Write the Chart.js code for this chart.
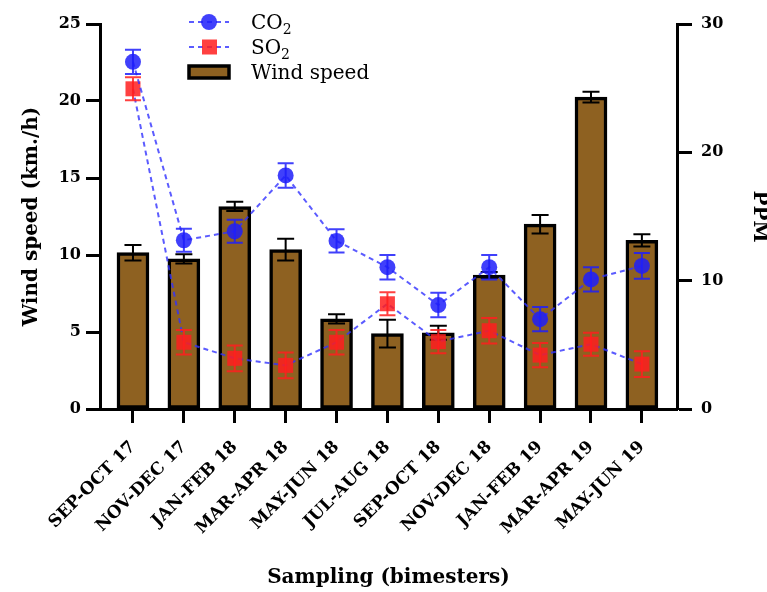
<!DOCTYPE html>
<html>
<head>
<meta charset="utf-8">
<script src="https://cdn.jsdelivr.net/npm/chart.js@4.4.1/dist/chart.umd.min.js"></script>
<style>
  body { margin: 0; background: #fff; }
  #wrap { width: 767px; height: 592px; }
</style>
</head>
<body>
<div id="wrap"><canvas id="grafico" width="767" height="592"></canvas></div>
<script>
const bimestres = ['SEP-OCT 17', 'NOV-DEC 17', 'JAN-FEB 18', 'MAR-APR 18', 'MAY-JUN 18', 'JUL-AUG 18',
  'SEP-OCT 18', 'NOV-DEC 18', 'JAN-FEB 19', 'MAR-APR 19', 'MAY-JUN 19'];
const posicoes = [0, 1, 2, 3, 4, 5, 6, 7, 8, 9, 10];

const vento = [10.15, 9.75, 13.15, 10.35, 5.85, 4.9, 4.95, 8.7, 12.0, 20.25, 10.95];
const ventoErro = [0.5, 0.3, 0.3, 0.7, 0.3, 0.9, 0.45, 0.2, 0.6, 0.35, 0.4];
const co2 = [27.05, 13.15, 13.85, 18.2, 13.1, 11.05, 8.1, 11.05, 7.0, 10.1, 11.15];
const co2Erro = [0.95, 0.9, 0.9, 0.95, 0.9, 0.95, 0.95, 0.95, 0.95, 0.95, 1.0];
const so2 = [24.95, 5.2, 3.95, 3.4, 5.2, 8.2, 5.25, 6.1, 4.2, 5.05, 3.5];
const so2Erro = [0.9, 0.95, 1.0, 1.0, 0.95, 0.9, 0.9, 1.0, 0.95, 0.9, 1.0];

const ticksVento = [0, 5, 10, 15, 20, 25];
const ticksPPM = [0, 10, 20, 30];

Chart.defaults.font.family = 'DejaVu Serif';
Chart.defaults.color = '#000';

function pontos(valores) {
    return valores.map((v, i) => ({ x: posicoes[i], y: v }));
}

// barras de erro desenhadas logo depois de cada dataset
const barrasDeErro = {
    id: 'barrasDeErro',
    afterDatasetDraw(chart, args) {
        const ds = chart.data.datasets[args.index];
        if (!ds.erros) return;
        const ctx = chart.ctx;
        const escalaY = chart.scales[ds.yAxisID];
        ctx.save();
        ctx.strokeStyle = ds.corErro;
        ctx.lineWidth = 2;
        args.meta.data.forEach((el, i) => {
            const v = ds.data[i].y;
            const e = ds.erros[i];
            const topo = escalaY.getPixelForValue(v + e);
            const base = escalaY.getPixelForValue(v - e);
            const meia = ds.larguraCap / 2;
            ctx.beginPath();
            ctx.moveTo(el.x, topo); ctx.lineTo(el.x, base);
            ctx.moveTo(el.x - meia, topo); ctx.lineTo(el.x + meia, topo);
            ctx.moveTo(el.x - meia, base); ctx.lineTo(el.x + meia, base);
            ctx.stroke();
        });
        ctx.restore();
    }
};

// legenda dentro da área do gráfico
const legenda = {
    id: 'legenda',
    afterDraw(chart) {
        const ctx = chart.ctx;
        ctx.save();
        const itens = [
            { texto: 'CO', sub: '2', y: 22, tipo: 'circulo', cor: 'rgba(30,30,250,0.85)' },
            { texto: 'SO', sub: '2', y: 47, tipo: 'quadrado', cor: 'rgba(255,30,30,0.85)' },
            { texto: 'Wind speed', sub: '', y: 72, tipo: 'barra', cor: '#8e6121' }
        ];
        itens.forEach(item => {
            if (item.tipo !== 'barra') {
                ctx.strokeStyle = 'rgba(50,50,255,0.8)';
                ctx.lineWidth = 2;
                ctx.setLineDash([5, 4]);
                ctx.beginPath();
                ctx.moveTo(189, item.y); ctx.lineTo(229, item.y);
                ctx.stroke();
                ctx.setLineDash([]);
                ctx.fillStyle = item.cor;
                if (item.tipo === 'circulo') {
                    ctx.beginPath();
                    ctx.arc(209, item.y, 8, 0, Math.PI * 2);
                    ctx.fill();
                } else {
                    ctx.fillRect(202, item.y - 7.5, 15, 15);
                }
            } else {
                ctx.fillStyle = item.cor;
                ctx.fillRect(189, item.y - 6, 40, 12);
                ctx.strokeStyle = '#000';
                ctx.lineWidth = 3.5;
                ctx.strokeRect(189, item.y - 6, 40, 12);
            }
            ctx.fillStyle = '#000';
            ctx.textBaseline = 'alphabetic';
            ctx.textAlign = 'left';
            ctx.font = '20px "DejaVu Serif"';
            ctx.fillText(item.texto, 251, item.y + 7);
            if (item.sub) {
                const w = ctx.measureText(item.texto).width;
                ctx.font = '14px "DejaVu Serif"';
                ctx.fillText(item.sub, 251 + w, item.y + 12);
            }
        });
        ctx.restore();
    }
};

const grafico = new Chart(document.getElementById('grafico'), {
    type: 'bar',
    data: {
        datasets: [
            {
                type: 'line',
                label: 'CO2',
                data: pontos(co2),
                yAxisID: 'y1',
                order: 1,
                borderColor: 'rgba(50,50,255,0.8)',
                borderWidth: 2,
                borderDash: [5, 4],
                pointStyle: 'circle',
                pointRadius: 8,
                pointBorderWidth: 0,
                pointBackgroundColor: 'rgba(30,30,250,0.85)',
                tension: 0,
                erros: co2Erro,
                corErro: 'rgba(30,30,250,0.85)',
                larguraCap: 16
            },
            {
                type: 'line',
                label: 'SO2',
                data: pontos(so2),
                yAxisID: 'y1',
                order: 2,
                borderColor: 'rgba(50,50,255,0.8)',
                borderWidth: 2,
                borderDash: [5, 4],
                pointStyle: 'rect',
                pointRadius: 10.6,
                pointBorderWidth: 0,
                pointBackgroundColor: 'rgba(255,30,30,0.85)',
                tension: 0,
                erros: so2Erro,
                corErro: 'rgba(255,30,30,0.85)',
                larguraCap: 16
            },
            {
                type: 'bar',
                label: 'Wind speed',
                data: pontos(vento),
                yAxisID: 'y',
                order: 3,
                backgroundColor: '#8e6121',
                borderColor: '#000',
                borderWidth: 3.5,
                borderSkipped: false,
                barThickness: 32,
                erros: ventoErro,
                corErro: '#000',
                larguraCap: 17
            }
        ]
    },
    options: {
        responsive: false,
        animation: false,
        layout: { padding: { top: 24, left: 0, right: 0, bottom: 0 } },
        plugins: { legend: { display: false }, tooltip: { enabled: false } },
        scales: {
            x: {
                type: 'linear',
                min: -0.648,
                max: 10.69,
                offset: false,
                afterBuildTicks: s => { s.ticks = posicoes.map(v => ({ value: v })); },
                afterFit: s => { s.height = 183; },
                ticks: {
                    autoSkip: false,
                    maxRotation: 45,
                    minRotation: 45,
                    padding: 14,
                    font: { size: 17, weight: 'bold' },
                    callback: v => bimestres[v]
                },
                grid: { drawOnChartArea: false, offset: false, tickLength: 14, tickWidth: 3, color: '#000' },
                border: { display: true, width: 3, color: '#000' },
                title: {
                    display: true,
                    text: 'Sampling (bimesters)',
                    font: { size: 20, weight: 'bold' },
                    padding: { top: 0, bottom: 2 }
                }
            },
            y: {
                position: 'left',
                min: 0,
                max: 25,
                afterBuildTicks: s => { s.ticks = ticksVento.map(v => ({ value: v })); },
                afterFit: s => { s.width = 100; },
                ticks: { padding: 5, font: { size: 16, weight: 'bold' } },
                grid: { drawOnChartArea: false, tickLength: 14, tickWidth: 3, color: '#000' },
                border: { display: true, width: 3, color: '#000' },
                title: {
                    display: true,
                    text: 'Wind speed (km./h)',
                    font: { size: 20, weight: 'bold' },
                    padding: { top: 20, bottom: 0 }
                }
            },
            y1: {
                position: 'right',
                min: 0,
                max: 30,
                afterBuildTicks: s => { s.ticks = ticksPPM.map(v => ({ value: v })); },
                afterFit: s => { s.width = 90; },
                ticks: { padding: 9, font: { size: 16, weight: 'bold' } },
                grid: { drawOnChartArea: false, tickLength: 15, tickWidth: 3, color: '#000' },
                border: { display: true, width: 3, color: '#000' },
                title: {
                    display: true,
                    text: 'PPM',
                    font: { size: 20, weight: 'bold', lineHeight: 0.8 },
                    padding: { top: 0, bottom: 0 }
                }
            }
        }
    },
    plugins: [barrasDeErro, legenda]
});
</script>
</body>
</html>
